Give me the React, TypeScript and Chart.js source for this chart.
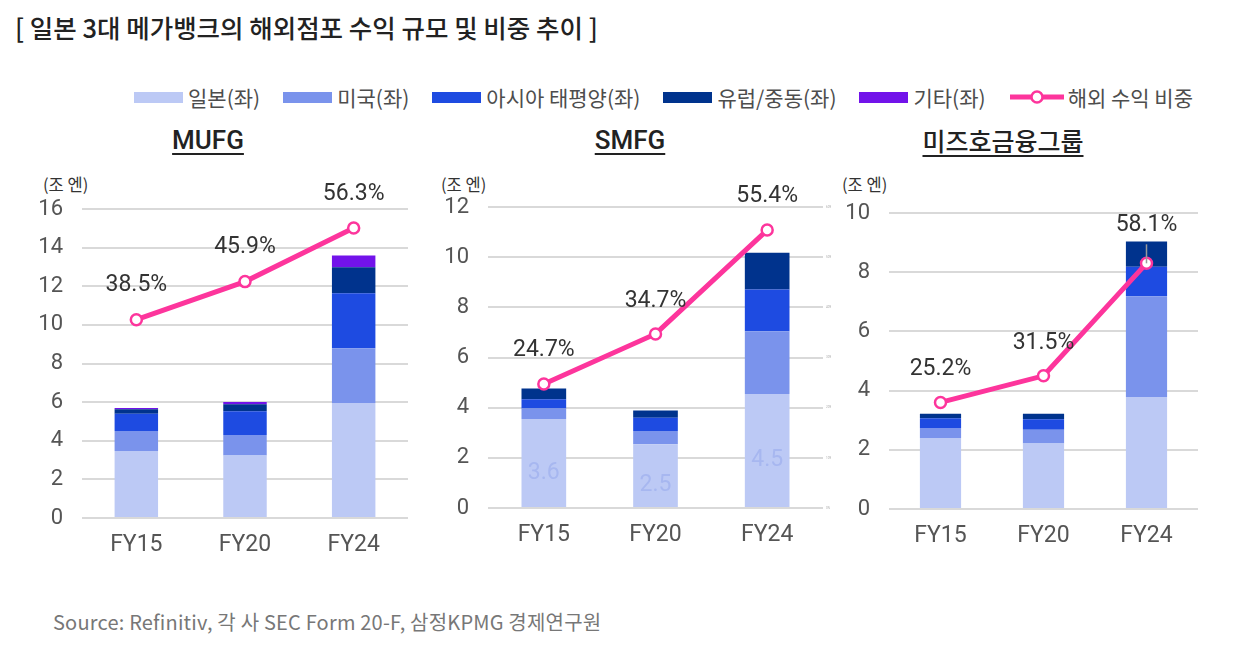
import React, { useEffect, useRef } from "react";
import { Chart, registerables } from "chart.js";

Chart.register(...registerables);

// ---------- data ----------
const categories = ["FY15", "FY20", "FY24"];
const seriesNames = ["일본(좌)", "미국(좌)", "아시아 태평양(좌)", "유럽/중동(좌)", "기타(좌)"];
const lineName = "해외 수익 비중";

const mufgJapan = [3.47, 3.23, 5.96];
const mufgUS = [1.03, 1.07, 2.83];
const mufgAsia = [0.9, 1.23, 2.85];
const mufgEurope = [0.23, 0.36, 1.35];
const mufgOther = [0.07, 0.12, 0.6];
const mufgShare = [38.5, 45.9, 56.3];

const smfgJapan = [3.55, 2.54, 4.54];
const smfgUS = [0.42, 0.53, 2.51];
const smfgAsia = [0.37, 0.53, 1.66];
const smfgEurope = [0.42, 0.29, 1.47];
const smfgOther = [0, 0, 0];
const smfgShare = [24.7, 34.7, 55.4];
const smfgJapanLabels = ["3.6", "2.5", "4.5"];

const mizuhoJapan = [2.4, 2.21, 3.78];
const mizuhoUS = [0.34, 0.47, 3.41];
const mizuhoAsia = [0.33, 0.35, 0.99];
const mizuhoEurope = [0.15, 0.19, 0.86];
const mizuhoOther = [0, 0, 0];
const mizuhoShare = [25.2, 31.5, 58.1];

const panelTitles = ["MUFG", "SMFG", "미즈호금융그룹"];
const unitLabel = "(조 엔)";
const mainTitle = "[ 일본 3대 메가뱅크의 해외점포 수익 규모 및 비중 추이 ]";
const sourceText = "Source: Refinitiv, 각 사 SEC Form 20-F, 삼정KPMG 경제연구원";

// ---------- styles ----------
const seriesColors = ["#bcc9f5", "#7a93ec", "#1e4be1", "#00338d", "#7213ea"];
const lineColor = "#fd359c";
const FONT = "Roboto, 'Noto Sans CJK KR', sans-serif";
const KFONT = "'Noto Sans CJK KR', Roboto, sans-serif";

Chart.defaults.font.family = FONT;

type PanelCfg = {
  title: string;
  titleSize: number;
  titleCenter: number;
  unitLeft: number;
  area: { left: number; right: number; top: number; bottom: number };
  yMax: number;
  shareMax: number;
  stacks: number[][];
  share: number[];
  pctOffsets: number[];
  leaderIndex: number;
  japanLabels: string[] | null;
  rightAxis: boolean;
};

const panels: PanelCfg[] = [
  {
    title: panelTitles[0],
    titleSize: 26,
    titleCenter: 208,
    unitLeft: 43,
    area: { left: 82, right: 411, top: 209, bottom: 518 },
    yMax: 16,
    shareMax: 60,
    stacks: [mufgJapan, mufgUS, mufgAsia, mufgEurope, mufgOther],
    share: mufgShare,
    pctOffsets: [34, 34, 34],
    leaderIndex: -1,
    japanLabels: null,
    rightAxis: false,
  },
  {
    title: panelTitles[1],
    titleSize: 26,
    titleCenter: 630,
    unitLeft: 441,
    area: { left: 488, right: 823, top: 207, bottom: 508 },
    yMax: 12,
    shareMax: 60,
    stacks: [smfgJapan, smfgUS, smfgAsia, smfgEurope, smfgOther],
    share: smfgShare,
    pctOffsets: [34, 33, 34],
    leaderIndex: -1,
    japanLabels: smfgJapanLabels,
    rightAxis: true,
  },
  {
    title: panelTitles[2],
    titleSize: 25,
    titleCenter: 1003,
    unitLeft: 842,
    area: { left: 889, right: 1201, top: 213, bottom: 509 },
    yMax: 10,
    shareMax: 70,
    stacks: [mizuhoJapan, mizuhoUS, mizuhoAsia, mizuhoEurope, mizuhoOther],
    share: mizuhoShare,
    pctOffsets: [33, 33, 38],
    leaderIndex: 2,
    japanLabels: null,
    rightAxis: false,
  },
];

const Y_AXIS_W = 60;
const X_AXIS_H = 45;
const PAD_TOP = 38;
const PAD_BOTTOM = 5;

function Panel({ p, idx }: { p: PanelCfg; idx: number }) {
  const ref = useRef<HTMLCanvasElement>(null);
  const padRight = p.rightAxis ? 10 : 5;
  const rightW = p.rightAxis ? 8 : 0;
  const left = p.area.left - Y_AXIS_W;
  const top = p.area.top - PAD_TOP;
  const width = p.area.right + rightW + padRight - left;
  const height = p.area.bottom + X_AXIS_H + PAD_BOTTOM - top;

  useEffect(() => {
    if (!ref.current) return;
    const datasets: any[] = seriesNames.map((name, k) => ({
      type: "bar",
      label: name,
      data: p.stacks[k],
      backgroundColor: seriesColors[k],
      borderWidth: 0,
      barPercentage: 0.4,
      categoryPercentage: 1,
      yAxisID: "y",
      stack: "s",
      order: 2,
    }));
    datasets.push({
      type: "line",
      label: lineName,
      data: p.share,
      yAxisID: "y1",
      borderColor: lineColor,
      borderWidth: 5,
      pointRadius: 5.5,
      pointHoverRadius: 5.5,
      pointBackgroundColor: "#ffffff",
      pointBorderColor: lineColor,
      pointBorderWidth: 2.5,
      tension: 0,
      order: 0,
    });
    const lineIndex = datasets.length - 1;

    const labelPlugin = {
      id: "panelLabels" + idx,
      afterDatasetsDraw(chart: any) {
        const ctx = chart.ctx;
        ctx.save();
        if (p.japanLabels) {
          const meta = chart.getDatasetMeta(0);
          ctx.font = `23px ${FONT}`;
          ctx.fillStyle = "#a7b7f0";
          ctx.textAlign = "center";
          ctx.textBaseline = "middle";
          meta.data.forEach((el: any, i: number) => {
            const cy = (el.y + el.base) / 2 + 10;
            ctx.fillText(p.japanLabels![i], el.x, cy);
          });
        }
        const lm = chart.getDatasetMeta(lineIndex);
        lm.data.forEach((pt: any, i: number) => {
          if (i === p.leaderIndex) {
            ctx.strokeStyle = "#9a9a9a";
            ctx.lineWidth = 1.5;
            ctx.beginPath();
            ctx.moveTo(pt.x, pt.y - 19);
            ctx.lineTo(pt.x, pt.y);
            ctx.stroke();
          }
          ctx.font = `23px ${FONT}`;
          ctx.fillStyle = "#333333";
          ctx.textAlign = "center";
          ctx.textBaseline = "middle";
          ctx.fillText(p.share[i].toFixed(1) + "%", pt.x, pt.y - p.pctOffsets[i]);
        });
        ctx.restore();
      },
    };

    const chart = new Chart(ref.current, {
      type: "bar",
      data: { labels: categories, datasets },
      options: {
        animation: false,
        responsive: true,
        maintainAspectRatio: false,
        events: [],
        layout: { padding: { top: PAD_TOP, bottom: PAD_BOTTOM, left: 0, right: padRight } },
        plugins: { legend: { display: false }, tooltip: { enabled: false } },
        scales: {
          x: {
            stacked: true,
            grid: { display: false },
            border: { display: false },
            ticks: { color: "#555555", font: { size: 23 }, padding: 5 },
            afterFit: (s: any) => {
              s.height = X_AXIS_H;
            },
          },
          y: {
            stacked: true,
            min: 0,
            max: p.yMax,
            ticks: { stepSize: 2, color: "#555555", font: { size: 22 }, padding: 19 },
            grid: { color: "#d9d9d9", lineWidth: 2, drawTicks: false },
            border: { display: false },
            afterFit: (s: any) => {
              s.width = Y_AXIS_W;
            },
          },
          y1: {
            position: "right",
            min: 0,
            max: p.shareMax,
            display: p.rightAxis,
            stacked: false,
            grid: { display: false, drawTicks: false },
            border: { display: false },
            ticks: {
              stepSize: 10,
              color: "#aaaaaa",
              font: { size: 3 },
              padding: 3,
              callback: (v: any) => v + "%",
            },
            afterFit: p.rightAxis
              ? (s: any) => {
                  s.width = rightW;
                }
              : undefined,
          },
        },
      } as any,
      plugins: [labelPlugin],
    });
    return () => chart.destroy();
  }, []);

  return (
    <>
      <div
        style={{
          position: "absolute",
          left: p.titleCenter - 150,
          width: 300,
          top: 140 - p.titleSize / 2,
          textAlign: "center",
          fontFamily: p.titleSize > 25 ? FONT : KFONT,
          fontSize: p.titleSize,
          fontWeight: 500,
          lineHeight: 1,
          color: "#222",
        }}
      >
        <span style={{ textDecoration: "underline", textUnderlineOffset: 4, textDecorationThickness: 2 }}>{p.title}</span>
      </div>
      <div
        style={{
          position: "absolute",
          left: p.unitLeft,
          top: 176,
          fontFamily: KFONT,
          fontSize: 16.5,
          lineHeight: 1,
          color: "#333",
          whiteSpace: "nowrap",
        }}
      >
        {unitLabel}
      </div>
      <div style={{ position: "absolute", left, top, width, height }}>
        <canvas ref={ref} />
      </div>
    </>
  );
}

function LegendItem({ k }: { k: number }) {
  return (
    <div style={{ display: "flex", alignItems: "center", marginRight: 23 }}>
      <div style={{ width: 49, height: 11, background: seriesColors[k], marginRight: 5 }} />
      <span>{seriesNames[k]}</span>
    </div>
  );
}

export default function App() {
  return (
    <div
      style={{
        position: "absolute",
        left: 0,
        top: 0,
        width: 1250,
        height: 653,
        background: "#ffffff",
        overflow: "hidden",
        fontFamily: KFONT,
      }}
    >
      <div
        style={{
          position: "absolute",
          left: 15,
          top: 14,
          fontSize: 25.5,
          fontWeight: 500,
          lineHeight: 1,
          color: "#222",
          whiteSpace: "nowrap",
        }}
      >
        {mainTitle}
      </div>
      <div
        style={{
          position: "absolute",
          left: 134,
          top: 86,
          height: 22,
          display: "flex",
          alignItems: "center",
          fontSize: 21,
          lineHeight: 1,
          color: "#4d4d4d",
          whiteSpace: "nowrap",
        }}
      >
        {seriesNames.map((_, k) => (
          <LegendItem key={k} k={k} />
        ))}
        <div style={{ display: "flex", alignItems: "center" }}>
          <svg width={56} height={18} style={{ marginRight: 3 }}>
            <line x1={1} y1={9} x2={55} y2={9} stroke={lineColor} strokeWidth={5} />
            <circle cx={28} cy={9} r={5.5} fill="#fff" stroke={lineColor} strokeWidth={2.5} />
          </svg>
          <span>{lineName}</span>
        </div>
      </div>
      {panels.map((p, i) => (
        <Panel key={i} p={p} idx={i} />
      ))}
      <div
        style={{
          position: "absolute",
          left: 53,
          top: 612,
          fontSize: 20,
          letterSpacing: 0.2,
          lineHeight: 1,
          color: "#777",
          whiteSpace: "nowrap",
        }}
      >
        {sourceText}
      </div>
    </div>
  );
}
